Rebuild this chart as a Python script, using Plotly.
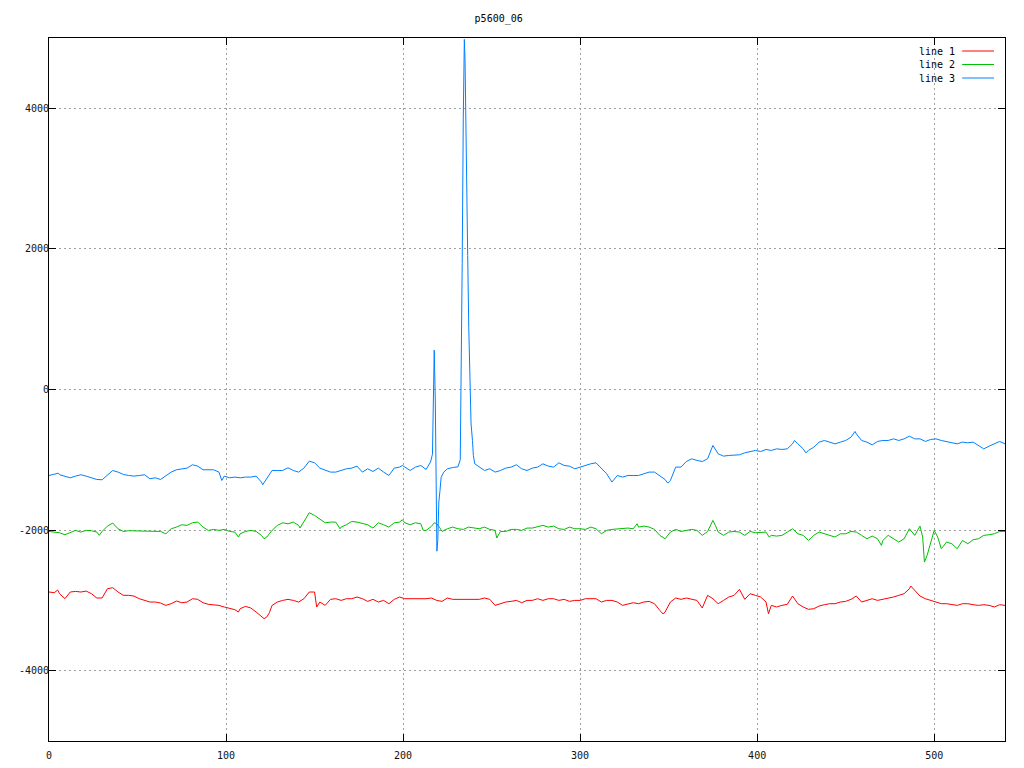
import plotly.graph_objects as go

# ---------------- data ----------------
x_line1 = [0, 3, 4.9, 6, 9, 12, 15, 18, 21, 24,
           27, 30, 33, 36, 39, 42, 45, 48, 51, 54,
           57, 60, 63, 66, 69, 72, 75, 78, 81, 84,
           87, 90, 93, 96, 99, 102, 105, 107, 108, 111,
           114, 117, 120, 121.5, 123, 124.5, 126, 129, 132, 135,
           138, 141, 144, 147, 150, 151.2, 153, 156, 159, 162,
           165, 168, 171, 174, 177, 180, 183, 186, 189, 192,
           195, 198, 201, 204, 207, 210, 213, 216, 219, 222,
           225, 228, 231, 234, 237, 240, 243, 246, 249, 252,
           255, 258, 261, 264, 267, 270, 273, 276, 279, 282,
           285, 288, 291, 294, 297, 300, 303, 306, 309, 312,
           315, 318, 321, 324, 327, 330, 333, 336, 339, 342,
           345, 346.9, 348, 351, 354, 357, 360, 363, 366, 369,
           372, 375, 378, 381, 384, 387, 390, 393, 396, 399,
           402, 405, 406.4, 408, 411, 414, 417, 420, 423, 426,
           429, 432, 435, 438, 441, 444, 447, 450, 453, 456,
           459, 462, 465, 468, 471, 474, 477, 480, 483, 486,
           486.8, 489, 492, 495, 498, 501, 504, 507, 510, 513,
           516, 519, 522, 525, 528, 531, 534, 537, 540]
line1 = [-2881, -2890, -2853, -2905, -2976, -2881, -2872, -2881, -2867, -2905,
         -2966, -2966, -2834, -2819, -2881, -2928, -2928, -2938, -2976, -3000,
         -3023, -3023, -3037, -3071, -3047, -3009, -3033, -3023, -2976, -2985,
         -3033, -3056, -3061, -3071, -3094, -3118, -3132, -3165, -3118, -3085,
         -3108, -3165, -3236, -3260, -3236, -3175, -3071, -3023, -3000, -2985,
         -3000, -3023, -2976, -2881, -2881, -3094, -3023, -3071, -2985, -2976,
         -3000, -2976, -2976, -2952, -2976, -3014, -2985, -3023, -3000, -3047,
         -2985, -2952, -2976, -2976, -2976, -2985, -2976, -2966, -3000, -3014,
         -2966, -2985, -2985, -2976, -2985, -2976, -2985, -2966, -2985, -3071,
         -3047, -3023, -3014, -3000, -3033, -3000, -3000, -2976, -3000, -2976,
         -2976, -3000, -2985, -3014, -3000, -3000, -2976, -2976, -2976, -3023,
         -3000, -3000, -3023, -3071, -3047, -3033, -3047, -3023, -3014, -3047,
         -3142, -3194, -3165, -3023, -2966, -2985, -2966, -2985, -3000, -3108,
         -2928, -2976, -3047, -3000, -2952, -2928, -2843, -2985, -2905, -2928,
         -2952, -3023, -3189, -3071, -3094, -3071, -3056, -2938, -3047, -3094,
         -3127, -3118, -3080, -3061, -3047, -3047, -3023, -3014, -2985, -2938,
         -3023, -3000, -2976, -3000, -2985, -2966, -2952, -2928, -2905, -2834,
         -2796, -2857, -2938, -2976, -3000, -3023, -3047, -3047, -3061, -3071,
         -3047, -3047, -3061, -3071, -3061, -3071, -3094, -3061, -3071]

x_line2 = [0, 3, 6, 9, 12, 15, 18, 21, 24, 27,
           28.4, 30, 33, 36, 39, 42, 45, 48, 51, 54,
           57, 60, 63, 66, 69, 72, 75, 78, 81, 84,
           87, 90, 93, 96, 99, 102, 105, 107, 108, 111,
           114, 117, 120, 121.5, 123, 126, 129, 132, 135, 138,
           141, 141.8, 144, 147, 150, 153, 156, 159, 162, 164.4,
           165, 168, 171, 174, 177, 180, 183, 186, 189, 192,
           195, 198, 199.6, 201, 204, 207, 210, 211.4, 213, 216,
           217.7, 219, 220.5, 222, 225, 228, 231, 234, 237, 240,
           243, 246, 249, 252, 252.9, 255, 258, 261, 264, 267,
           270, 273, 276, 279, 282, 285, 288, 291, 294, 297,
           300, 303, 306, 309, 312, 315, 318, 321, 324, 327,
           330, 332.2, 333, 336, 339, 342, 345, 348, 351, 354,
           357, 360, 363, 366, 369, 372, 375, 376.4, 378, 381,
           384, 387, 390, 393, 396, 399, 402, 405, 406.8, 408,
           411, 414, 417, 420, 423, 426, 429, 432, 435, 438,
           441, 444, 447, 450, 453, 456, 459, 462, 465, 468,
           470.2, 471, 474, 477, 480, 483, 486, 489, 492, 493.5,
           494.5, 496, 498, 500, 502, 504, 507, 510, 513, 516,
           519, 522, 525, 528, 531, 534, 537, 540]
line2 = [-2019, -2028, -2038, -2066, -2038, -2004, -2028, -2004, -2009, -2028,
         -2075, -2019, -1943, -1900, -1981, -2019, -2009, -2009, -2009, -2019,
         -2019, -2009, -2019, -2052, -1981, -1957, -1924, -1933, -1896, -1886,
         -1957, -2004, -1990, -2004, -1990, -2019, -2028, -2099, -2052, -2019,
         -2004, -2019, -2075, -2123, -2099, -2004, -1933, -1896, -1910, -1886,
         -1933, -1971, -1886, -1753, -1791, -1839, -1896, -1886, -1886, -1981,
         -1957, -1924, -1877, -1886, -1900, -1924, -1971, -1896, -1924, -1957,
         -1896, -1886, -1853, -1896, -1924, -1896, -1910, -2004, -2004, -1948,
         -1896, -1910, -1957, -2019, -1981, -1957, -1981, -1990, -1957, -1971,
         -1981, -1957, -1990, -2004, -2113, -2019, -2019, -1990, -1990, -2004,
         -1971, -1971, -1957, -1933, -1957, -1943, -1981, -1990, -1957, -1981,
         -1981, -1990, -1957, -1981, -2052, -2004, -1990, -1981, -1981, -1971,
         -1981, -1910, -1957, -1943, -1957, -1990, -2075, -2123, -2028, -1990,
         -2019, -2004, -1990, -2004, -2075, -2019, -1862, -1933, -2028, -2075,
         -2028, -2019, -2028, -2075, -2019, -2038, -2038, -2028, -2099, -2075,
         -2085, -2075, -2028, -1981, -2052, -2075, -2147, -2075, -2028, -2052,
         -2075, -2099, -2052, -2052, -2019, -2028, -2075, -2123, -2085, -2123,
         -2218, -2147, -2075, -2123, -2170, -2123, -1981, -2075, -1943, -2100,
         -2455, -2360, -2170, -2004, -2100, -2265, -2170, -2194, -2265, -2147,
         -2194, -2137, -2123, -2075, -2066, -2052, -2019, -2019]

x_line3 = [0, 3, 5.3, 6, 9, 12, 15, 18, 21, 24,
           27, 30, 33, 36, 39, 42, 45, 48, 51, 54,
           57, 60, 63, 66, 69, 72, 75, 78, 81, 84,
           87, 90, 93, 96, 97.6, 99, 102, 105, 108, 111,
           114, 117, 120, 120.7, 123, 126, 129, 132, 135, 138,
           141, 144, 147, 150, 153, 156, 159, 162, 165, 168,
           171, 174, 177, 180, 183, 186, 189, 192, 195, 198,
           199.6, 201, 204, 207, 210, 213, 215.5, 216.6, 217.0, 217.6,
           218.2, 218.7, 219.1, 219.6, 220.2, 220.8, 221.5, 223, 225, 228,
           231, 232.3, 232.8, 233.4, 234.0, 234.6, 235.0, 235.4, 236.0, 236.5,
           237.1, 237.9, 238.4, 239.2, 239.7, 240.5, 243, 246, 249, 252,
           255, 258, 261, 264, 267, 270, 273, 276, 279, 282,
           285, 288, 291, 294, 297, 300, 303, 306, 309, 312,
           315, 318, 321, 324, 327, 330, 333, 336, 339, 342,
           345, 348, 349.5, 351, 354, 357, 360, 363, 366, 369,
           372, 375, 378, 381, 384, 387, 390, 393, 396, 399,
           402, 405, 408, 411, 414, 417, 420, 421.1, 423, 426,
           427.5, 429, 432, 435, 438, 441, 444, 447, 450, 453,
           455.3, 456, 459, 462, 465, 468, 471, 474, 477, 480,
           483, 486, 489, 492, 495, 498, 501, 504, 507, 510,
           513, 516, 519, 522, 525, 528, 531, 534, 537, 540]
line3 = [-1223, -1208, -1190, -1213, -1237, -1256, -1232, -1213, -1232, -1256,
         -1280, -1284, -1223, -1152, -1175, -1208, -1223, -1232, -1223, -1213,
         -1270, -1256, -1280, -1223, -1175, -1142, -1128, -1118, -1071, -1090,
         -1142, -1142, -1142, -1175, -1294, -1232, -1256, -1246, -1256, -1246,
         -1246, -1232, -1317, -1355, -1270, -1152, -1152, -1152, -1114, -1152,
         -1175, -1118, -1019, -1043, -1118, -1152, -1175, -1175, -1152, -1128,
         -1118, -1090, -1175, -1128, -1166, -1118, -1175, -1223, -1118, -1104,
         -1081, -1104, -1152, -1104, -1081, -1137, -1033, -920, -180, 560,
         -150, -2000, -2300, -2150, -1600, -1450, -1250, -1175, -1128, -1110,
         -1100, -1000, -60, 1790, 3850, 4980, 4680, 4085, 3160, 1905,
         886, 33, -490, -725, -940, -1057, -1104, -1152, -1128, -1175,
         -1152, -1118, -1104, -1071, -1128, -1152, -1118, -1104, -1057, -1090,
         -1104, -1043, -1081, -1090, -1128, -1104, -1071, -1057, -1043, -1128,
         -1199, -1317, -1223, -1246, -1223, -1223, -1223, -1199, -1175, -1175,
         -1223, -1280, -1332, -1294, -1104, -1104, -1024, -986, -1009, -1024,
         -986, -796, -915, -948, -938, -929, -929, -901, -882, -867,
         -882, -853, -867, -844, -853, -844, -773, -725, -773, -844,
         -901, -867, -820, -749, -725, -749, -773, -749, -725, -678,
         -597, -630, -725, -749, -787, -739, -725, -725, -702, -725,
         -702, -664, -702, -702, -739, -711, -702, -725, -739, -749,
         -773, -749, -758, -749, -796, -844, -806, -773, -739, -773]

series_names = ["line 1", "line 2", "line 3"]
series_colors = ["#ff0000", "#00c000", "#0080ff"]

x_tick_vals = [0, 100, 200, 300, 400, 500]
x_tick_labels = ["0", "100", "200", "300", "400", "500"]
y_tick_vals = [-4000, -2000, 0, 2000, 4000]
y_tick_labels = ["-4000", "-2000", "0", "2000", "4000"]

title_text = "p5600_06"

# ---------------- figure ----------------
FONT = "DejaVu Sans Mono"
fig = go.Figure()
for xs, ys, name, col in zip([x_line1, x_line2, x_line3], [line1, line2, line3],
                             series_names, series_colors):
    fig.add_trace(go.Scatter(x=xs, y=ys, mode="lines", name=name,
                             line=dict(color=col, width=1), showlegend=False))

# gnuplot-style legend: text then line sample
leg_y = [0.9815, 0.9623, 0.9431]
for name, col, yy in zip(series_names, series_colors, leg_y):
    fig.add_annotation(xref="paper", yref="paper", x=0.9500, y=yy, text=name,
                       showarrow=False, xanchor="right", yanchor="middle",
                       font=dict(family=FONT, size=10, color="black"))
    fig.add_shape(type="line", xref="paper", yref="paper", x0=0.9552, x1=0.9885,
                  y0=yy, y1=yy, line=dict(color=col, width=1))

axis_common = dict(showline=True, linecolor="black", linewidth=1, mirror="ticks",
                   ticks="inside", ticklen=7, tickcolor="black", tickwidth=1,
                   showgrid=True, gridcolor="#a0a0a0", gridwidth=1, griddash="2px,3px",
                   zeroline=False, automargin=False,
                   tickfont=dict(family=FONT, size=10, color="#111111"))

fig.update_xaxes(range=[0, 540], tickmode="array", tickvals=x_tick_vals,
                 ticktext=x_tick_labels, ticklabelstandoff=5, **axis_common)
fig.update_yaxes(range=[-5000, 5000], tickmode="array", tickvals=y_tick_vals,
                 ticktext=y_tick_labels, ticklabelstandoff=-3, **axis_common)

fig.update_layout(
    width=1024, height=768,
    margin=dict(l=49, r=19, t=38, b=27),
    plot_bgcolor="white", paper_bgcolor="white",
    title=dict(text=title_text, x=0.487, xref="container", xanchor="center",
               y=1 - 18 / 768, yref="container", yanchor="middle",
               font=dict(family=FONT, size=10, color="black")),
)

fig.write_html("out.html", config={"displayModeBar": False},
               post_script="document.body.style.margin='0px';"
                           "document.body.style.overflow='hidden';")
